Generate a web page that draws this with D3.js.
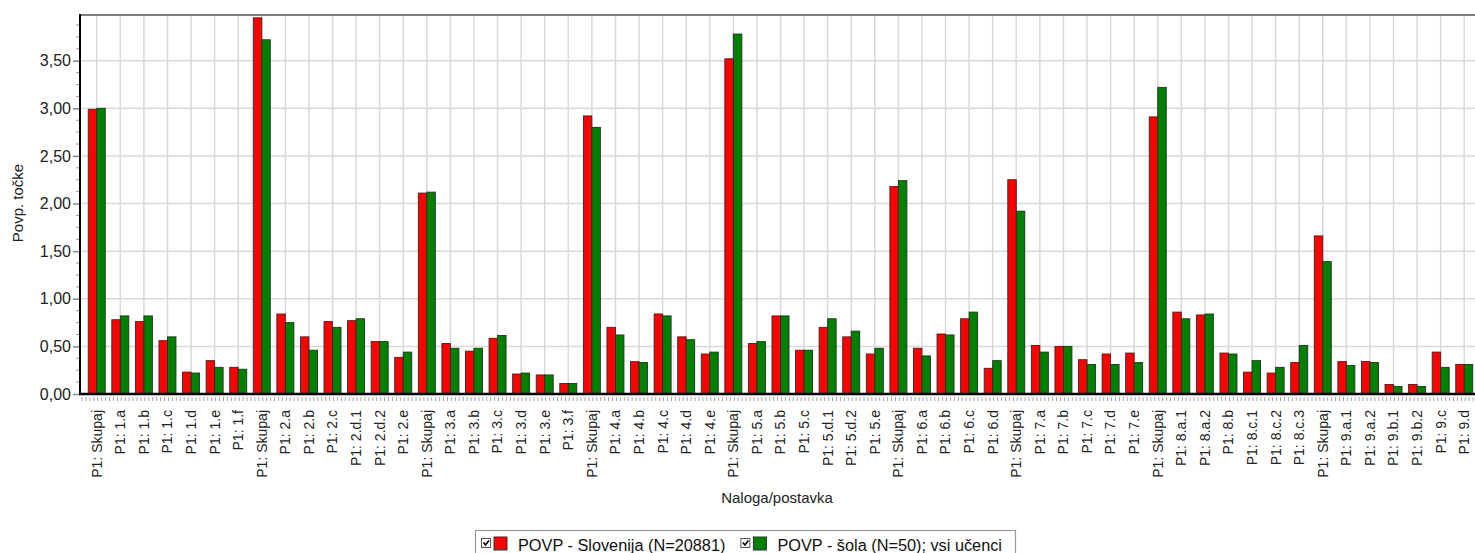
<!DOCTYPE html>
<html>
<head>
<meta charset="utf-8">
<script src="https://cdn.jsdelivr.net/npm/d3@7"></script>
<style>
  html, body { margin: 0; padding: 0; background: #fff; }
  svg { display: block; font-family: "Liberation Sans", Arial, sans-serif; }
</style>
</head>
<body>
<div id="chart"></div>
<script>
/* Povprečne točke po nalogah — Slovenija vs. šola */

const labels = [
  'P1: Skupaj','P1: 1.a','P1: 1.b','P1: 1.c','P1: 1.d','P1: 1.e','P1: 1.f',
  'P1: Skupaj','P1: 2.a','P1: 2.b','P1: 2.c','P1: 2.d.1','P1: 2.d.2','P1: 2.e',
  'P1: Skupaj','P1: 3.a','P1: 3.b','P1: 3.c','P1: 3.d','P1: 3.e','P1: 3.f',
  'P1: Skupaj','P1: 4.a','P1: 4.b','P1: 4.c','P1: 4.d','P1: 4.e',
  'P1: Skupaj','P1: 5.a','P1: 5.b','P1: 5.c','P1: 5.d.1','P1: 5.d.2','P1: 5.e',
  'P1: Skupaj','P1: 6.a','P1: 6.b','P1: 6.c','P1: 6.d',
  'P1: Skupaj','P1: 7.a','P1: 7.b','P1: 7.c','P1: 7.d','P1: 7.e',
  'P1: Skupaj','P1: 8.a.1','P1: 8.a.2','P1: 8.b','P1: 8.c.1','P1: 8.c.2','P1: 8.c.3',
  'P1: Skupaj','P1: 9.a.1','P1: 9.a.2','P1: 9.b.1','P1: 9.b.2','P1: 9.c','P1: 9.d'
];

const slovenija = [
  2.99, 0.78, 0.76, 0.56, 0.23, 0.35, 0.28,
  3.95, 0.84, 0.60, 0.76, 0.77, 0.55, 0.385,
  2.11, 0.53, 0.45, 0.585, 0.21, 0.20, 0.11,
  2.92, 0.70, 0.34, 0.84, 0.60, 0.42,
  3.52, 0.53, 0.82, 0.46, 0.70, 0.60, 0.42,
  2.18, 0.48, 0.63, 0.79, 0.27,
  2.25, 0.51, 0.50, 0.36, 0.42, 0.43,
  2.91, 0.86, 0.83, 0.43, 0.23, 0.22, 0.33,
  1.66, 0.34, 0.34, 0.10, 0.10, 0.44, 0.31
];

const sola = [
  3.00, 0.82, 0.82, 0.60, 0.22, 0.28, 0.26,
  3.72, 0.75, 0.46, 0.70, 0.79, 0.55, 0.44,
  2.12, 0.48, 0.48, 0.615, 0.22, 0.20, 0.11,
  2.80, 0.62, 0.33, 0.82, 0.57, 0.44,
  3.78, 0.55, 0.82, 0.46, 0.79, 0.66, 0.48,
  2.24, 0.40, 0.62, 0.86, 0.35,
  1.92, 0.44, 0.50, 0.31, 0.31, 0.33,
  3.22, 0.79, 0.84, 0.42, 0.35, 0.28, 0.51,
  1.39, 0.30, 0.33, 0.08, 0.08, 0.28, 0.31
];

const yTicks = [0, 0.5, 1, 1.5, 2, 2.5, 3, 3.5];
const seriesNames = ['POVP - Slovenija (N=20881)', 'POVP - šola (N=50); vsi učenci'];
const seriesColors = ['#ff0000', '#008000'];

/* ── layout ─────────────────────────────────────── */
const W = 1475, H = 553;
const L = 80, T = 15, B = 394, R = 1481;

const svg = d3.select('#chart').append('svg')
  .attr('width', W).attr('height', H);

const x = d3.scaleBand()
  .domain(d3.range(labels.length))
  .range([L, R])
  .paddingInner(0).paddingOuter(0.21);

const y = d3.scaleLinear().domain([0, 3.98]).range([B, T]);

const cx = i => x(i) + x.bandwidth() / 2;
const BW = 8.5;

/* grid */
const grid = svg.append('g');
grid.selectAll('line.h').data(yTicks.slice(1)).join('line')
  .attr('x1', L).attr('x2', W)
  .attr('y1', d => y(d)).attr('y2', d => y(d))
  .attr('stroke', '#d9d9d9').attr('stroke-width', 1.5);
grid.selectAll('line.v').data(d3.range(labels.length)).join('line')
  .attr('x1', d => cx(d)).attr('x2', d => cx(d))
  .attr('y1', T).attr('y2', B)
  .attr('stroke', '#d9d9d9').attr('stroke-width', 1.5);

/* top border */
svg.append('line')
  .attr('x1', L).attr('x2', W).attr('y1', T).attr('y2', T)
  .attr('stroke', '#808080').attr('stroke-width', 2);

/* bars */
const barsG = svg.append('g');
[slovenija, sola].forEach((vals, s) => {
  barsG.selectAll(null).data(vals).join('rect')
    .attr('x', (d, i) => s === 0 ? cx(i) - BW : cx(i))
    .attr('y', d => y(d))
    .attr('width', BW)
    .attr('height', d => B - y(d))
    .attr('fill', seriesColors[s])
    .attr('stroke', '#2b2b2b').attr('stroke-width', 0.9);
});

/* y axis */
const minor = d3.range(0, 3.98, 0.125).filter(v => !yTicks.includes(v));
svg.append('g').selectAll('line').data(minor).join('line')
  .attr('x1', L - 4).attr('x2', L)
  .attr('y1', d => y(d)).attr('y2', d => y(d))
  .attr('stroke', '#999').attr('stroke-width', 1);

const yAxis = svg.append('g')
  .attr('transform', `translate(${L},0)`)
  .call(d3.axisLeft(y).tickValues(yTicks).tickSizeOuter(0).tickSize(7)
    .tickFormat(d => d.toFixed(2).replace('.', ',')));
yAxis.select('.domain').remove();
yAxis.selectAll('.tick line').attr('stroke', '#888').attr('stroke-width', 1.5);
yAxis.selectAll('.tick text')
  .attr('font-family', '"Liberation Sans", Arial, sans-serif')
  .attr('font-size', 16).attr('fill', '#222').attr('x', -9);

svg.append('line')
  .attr('x1', L).attr('x2', L).attr('y1', T - 1).attr('y2', B + 1)
  .attr('stroke', '#000').attr('stroke-width', 2);

/* x axis */
const xMinor = d3.range(L + 2, W, x.step() / 6);
svg.append('g').selectAll('line').data(xMinor).join('line')
  .attr('x1', d => d).attr('x2', d => d)
  .attr('y1', B + 3).attr('y2', B + 7)
  .attr('stroke', '#aaa').attr('stroke-width', 1);

svg.append('line')
  .attr('x1', L - 1).attr('x2', W).attr('y1', B).attr('y2', B)
  .attr('stroke', '#000').attr('stroke-width', 2.5);

svg.append('g').selectAll('text').data(labels).join('text')
  .attr('transform', (d, i) => `translate(${cx(i)},${410}) rotate(-90)`)
  .attr('text-anchor', 'end')
  .attr('dy', '0.35em')
  .attr('font-size', 14).attr('fill', '#222')
  .text(d => d);

/* axis titles */
svg.append('text')
  .attr('transform', 'translate(18,203) rotate(-90)')
  .attr('text-anchor', 'middle').attr('dy', '0.35em')
  .attr('font-size', 15).attr('fill', '#222')
  .text('Povp. točke');

svg.append('text')
  .attr('x', 777).attr('y', 503)
  .attr('text-anchor', 'middle')
  .attr('font-size', 15).attr('fill', '#222')
  .text('Naloga/postavka');

/* legend */
const lg = svg.append('g');
lg.append('rect')
  .attr('x', 475.5).attr('y', 530.5).attr('width', 540).attr('height', 40)
  .attr('fill', '#fff').attr('stroke', '#999').attr('stroke-width', 1.2);

let lx = 481;
seriesNames.forEach((name, s) => {
  const item = lg.append('g').attr('transform', `translate(${lx},0)`);
  item.append('rect')
    .attr('x', 0.5).attr('y', 538.5).attr('width', 9).attr('height', 9)
    .attr('fill', '#fff').attr('stroke', '#555');
  item.append('path')
    .attr('d', 'M2.5,542.5 L4.5,545 L8,540.5')
    .attr('fill', 'none').attr('stroke', '#000').attr('stroke-width', 1.6);
  item.append('rect')
    .attr('x', 13).attr('y', 537).attr('width', 13).attr('height', 13)
    .attr('fill', seriesColors[s]).attr('stroke', '#333');
  const t = item.append('text')
    .attr('x', 37).attr('y', 551)
    .attr('font-size', 16.3).attr('fill', '#111')
    .text(name);
  lx += 37 + t.node().getComputedTextLength() + 15;
});
</script>
</body>
</html>
